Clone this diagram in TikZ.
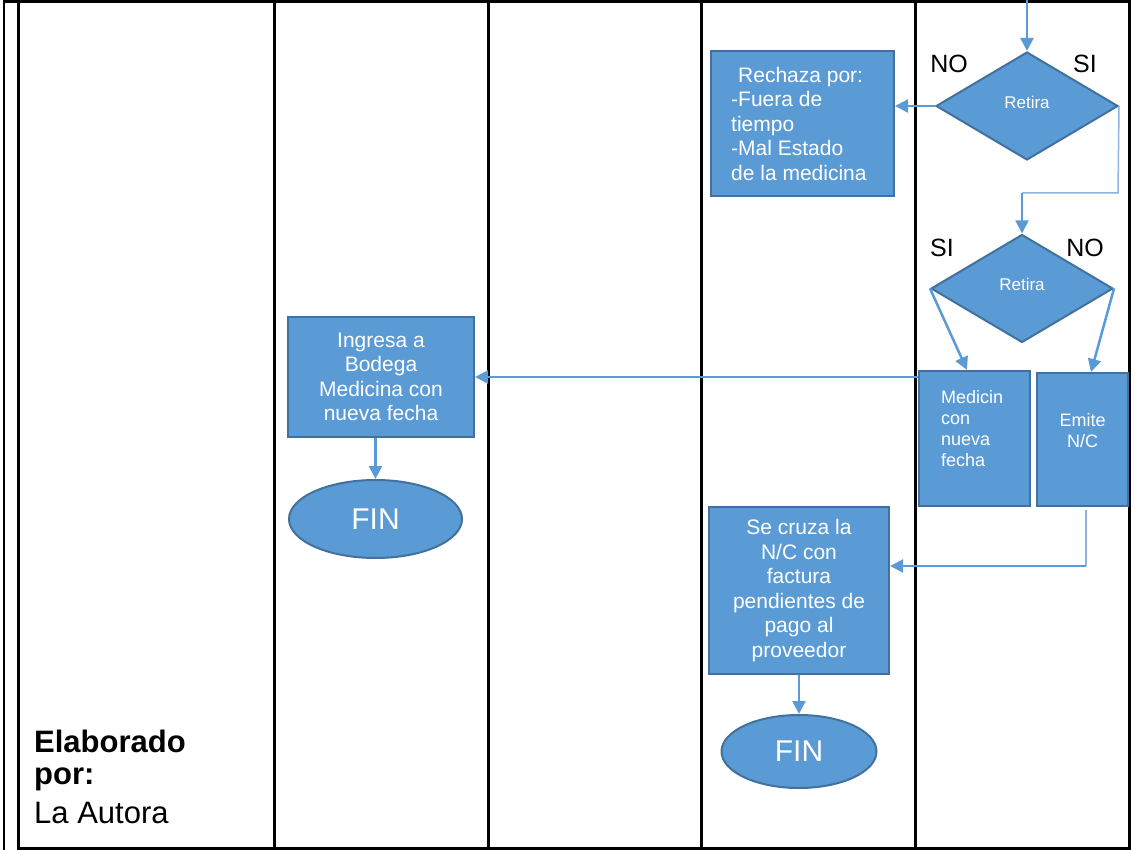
\documentclass[tikz,border=0pt]{standalone}
\usepackage{fontspec}
\setmainfont{Liberation Sans}
\usetikzlibrary{shapes.geometric,arrows.meta,calc}
\definecolor{fillblue}{HTML}{5B9BD5}
\definecolor{edgeblue}{HTML}{41719C}
\definecolor{linkblue}{HTML}{5B9BD5}
\definecolor{lightlink}{HTML}{8DB4E2}

\begin{document}
\begin{tikzpicture}[x=1pt,y=-1pt,
  frame/.style={line width=3pt, black},
  procbox/.style={rectangle, fill=fillblue, draw=edgeblue, line width=2pt, inner sep=0pt},
  decision/.style={diamond, fill=fillblue, draw=edgeblue, line width=2pt, inner sep=0pt,
                   minimum width=182pt, minimum height=108pt},
  endcap/.style={ellipse, fill=fillblue, draw=edgeblue, line width=2pt, inner sep=0pt,
                 text=white, font=\fontsize{30}{30}\selectfont},
  intext/.style={text=white, inner sep=0pt, font=\fontsize{21}{24.5}\selectfont, align=center},
  smalltext/.style={text=white, inner sep=0pt, font=\fontsize{18}{21}\selectfont},
  dtext/.style={text=white, inner sep=0pt, font=\fontsize{17}{17}\selectfont},
  branch/.style={font=\fontsize{25}{25}\selectfont, anchor=base, inner sep=0pt},
  note/.style={anchor=base west, inner sep=0pt, font=\fontsize{31}{31}\selectfont},
  flow/.style={draw=linkblue, line width=2.5pt, -{Triangle[length=13pt,width=13pt]}},
  slimflow/.style={draw=linkblue, line width=2pt, -{Triangle[length=13pt,width=13pt]}},
  thinflow/.style={draw=lightlink, line width=1.5pt},
]
\useasboundingbox (0,0) rectangle (1144,850);

% table frame and lane separators
\draw[line width=2pt] (4,0) -- (4,850);
\draw[frame] (18,0) -- (18,850);
\draw[frame] (3,1.5) -- (1130.5,1.5);
\draw[frame] (18,848.5) -- (1130.5,848.5);
\foreach \xx in {274,488,701,915,1129} \draw[frame] (\xx,0) -- (\xx,850);

% first decision and rejection
\coordinate (entry) at (1027,0);
\node[decision] (d1) at (1027,106) {};
\node[dtext] at ([yshift=4pt]d1.center) {Retira};
\node[branch] (no1) at (949,73) {NO};
\node[branch] (si1) at (1085,73) {SI};

\node[procbox, minimum width=183pt, minimum height=145pt] (rech) at (802.5,123.5) {};
\node[intext, align=left, anchor=west] (rechtxt) at ([xshift=21pt]rech.west)
  {\hspace{7pt}Rechaza por:\\-Fuera de\\tiempo\\-Mal Estado\\de la medicina};

\draw[flow] (entry) -- (d1.north);
\draw[flow] (d1.west) -- (rech.east |- d1.west);

% second decision
\node[decision] (d2) at (1022,288.5) {};
\node[dtext] at ([yshift=4pt]d2.center) {Retira};
\node[branch] (si2) at (942,257) {SI};
\node[branch] (no2) at (1085,257) {NO};

\coordinate (turnA) at (1118,193);
\coordinate (turnB) at (1022,193);
\draw[thinflow] (d1.east) -- (turnA) -- (turnB);
\draw[draw=linkblue, line width=1.8pt, -{Triangle[length=13pt,width=13pt]}] (turnB) -- (d2.north);

% outcomes of the second decision
\node[procbox, minimum width=111pt, minimum height=135pt] (med) at (974.5,438.5) {};
\node[smalltext, align=left, text width=70pt, anchor=west] (medtxt) at (941,428.5)
  {Medicin\\con\\nueva\\fecha};
\node[procbox, minimum width=91pt, minimum height=133pt] (emi) at (1082.5,439.5) {};
\node[smalltext, align=center] (emitxt) at (1082.5,431) {Emite\\N/C};

\draw[flow] (d2.west) -- ([xshift=-7.5pt]med.north);
\draw[flow] (d2.east) -- ([xshift=8.5pt]emi.north);

% warehouse lane
\node[procbox, minimum width=186pt, minimum height=120pt, intext] (ing) at (381,377)
  {Ingresa a\\Bodega\\Medicina con\\nueva fecha};
\node[endcap, minimum width=173pt, minimum height=78pt] (fin1) at (375.5,519) {FIN};
\draw[slimflow] (med.north west |- ing.east) -- (ing.east);
\draw[flow] (ing.south -| fin1.north) -- (fin1.north);

% credit note lane
\node[procbox, minimum width=180pt, minimum height=167pt, intext] (cruz) at (799,590.5)
  {Se cruza la\\N/C con\\factura\\pendientes de\\pago al\\proveedor};
\node[endcap, minimum width=155pt, minimum height=73pt] (fin2) at (799,751.5) {FIN};
\coordinate (nctop) at (1086,510);
\coordinate (ncturn) at (1086,566);
\draw[thinflow] (nctop) -- (ncturn);
\draw[slimflow] (ncturn) -- (ncturn -| cruz.east);
\draw[flow] (cruz.south) -- (fin2.north);

% author note
\node[note, font=\fontsize{31}{31}\selectfont\bfseries] (auth1) at (34,752) {Elaborado};
\node[note, font=\fontsize{31}{31}\selectfont\bfseries] (auth2) at (34,784) {por:};
\node[note] (auth3) at (34,823) {La Autora};
\end{tikzpicture}
\end{document}
